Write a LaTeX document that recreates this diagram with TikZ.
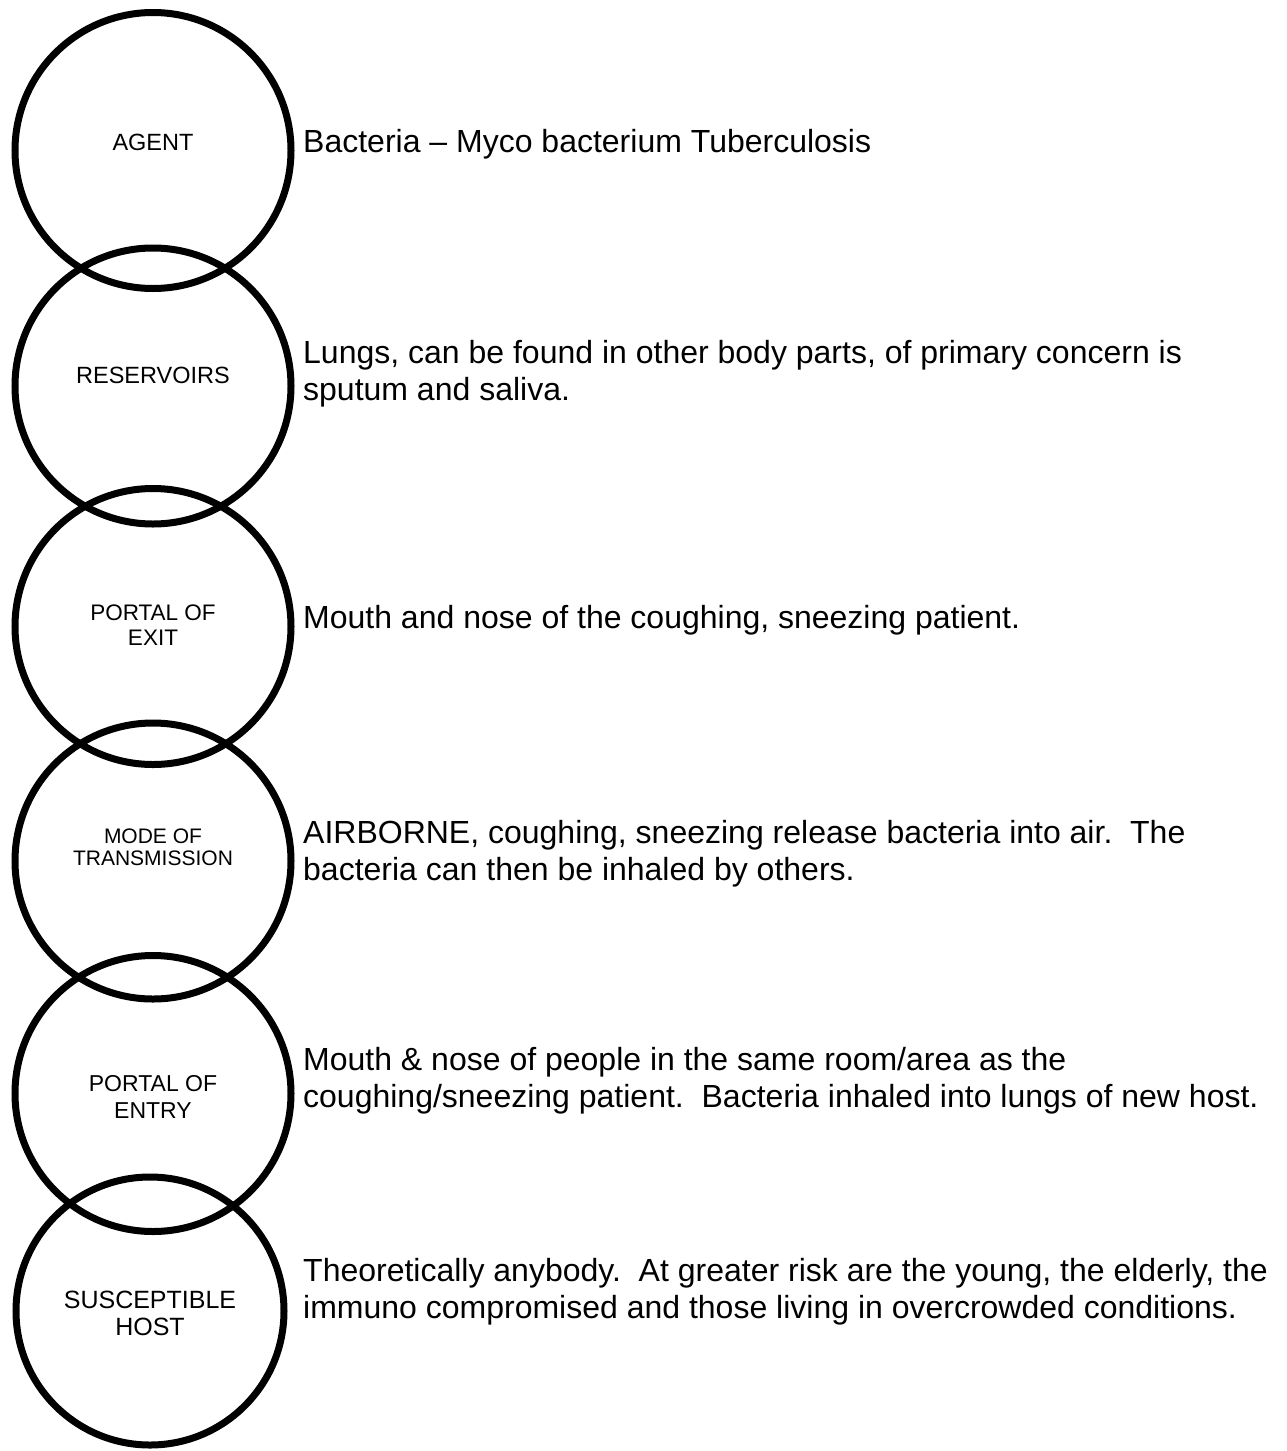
\documentclass[tikz,border=0pt]{standalone}
\usepackage{fontspec}
\setmainfont{Liberation Sans}
\frenchspacing
\begin{document}
\begin{tikzpicture}[x=1pt,y=-1pt,
  ring/.style={draw=black,line width=7pt,circle,inner sep=0pt,minimum size=276pt},
  tag/.style={inner sep=0pt,anchor=base,align=center},
  body/.style={inner sep=0pt,anchor=base west,font=\fontsize{32}{37}\selectfont}]
\useasboundingbox (0,0) rectangle (1286,1451);
\fill[white] (0,0) rectangle (1286,1451);

% chain of infection rings
\node[ring] (agent) at (153,150.5) {};
\node[ring] (res)   at (153,386) {};
\node[ring] (exit)  at (153,626.5) {};
\node[ring] (mode)  at (153,861) {};
\node[ring] (entry) at (153,1093.5) {};
\node[ring,minimum size=268pt] (host) at (150,1311) {};

% ring captions
\node[tag,font=\fontsize{23.5}{27}\selectfont] (tagA) at (153,150) {AGENT};
\node[tag,font=\fontsize{23.5}{27}\selectfont] (tagR) at (153,383) {RESERVOIRS};
\node[tag,font=\fontsize{22.5}{27}\selectfont] (tagX1) at (153,620) {PORTAL OF};
\node[tag,font=\fontsize{22.5}{27}\selectfont] (tagX2) at (153,645) {EXIT};
\node[tag,font=\fontsize{21}{27}\selectfont] (tagM1) at (153,843) {MODE OF};
\node[tag,font=\fontsize{21}{27}\selectfont] (tagM2) at (153,865) {TRANSMISSION};
\node[tag,font=\fontsize{23}{27}\selectfont] (tagE1) at (153,1091) {PORTAL OF};
\node[tag,font=\fontsize{23}{27}\selectfont] (tagE2) at (153,1118) {ENTRY};
\node[tag,font=\fontsize{25}{27}\selectfont] (tagH1) at (150,1308) {SUSCEPTIBLE};
\node[tag,font=\fontsize{25}{27}\selectfont] (tagH2) at (150,1335) {HOST};

% descriptions
\node[body] (dA) at (303,152) {Bacteria – Myco bacterium Tuberculosis};
\node[body] (dR1) at (303,363) {Lungs, can be found in other body parts, of primary concern is};
\node[body] (dR2) at (303,400) {sputum and saliva.};
\node[body] (dX) at (303,628) {Mouth and nose of the coughing, sneezing patient.};
\node[body] (dM1) at (303,843) {AIRBORNE, coughing, sneezing release bacteria into air.\ \ The};
\node[body] (dM2) at (303,880) {bacteria can then be inhaled by others.};
\node[body] (dE1) at (303,1070) {Mouth \& nose of people in the same room/area as the};
\node[body] (dE2) at (303,1107) {coughing/sneezing patient.\ \ Bacteria inhaled into lungs of new host.};
\node[body] (dH1) at (303,1281) {Theoretically anybody.\ \ At greater risk are the young, the elderly, the};
\node[body] (dH2) at (303,1318) {immuno compromised and those living in overcrowded conditions.};
\end{tikzpicture}
\end{document}
